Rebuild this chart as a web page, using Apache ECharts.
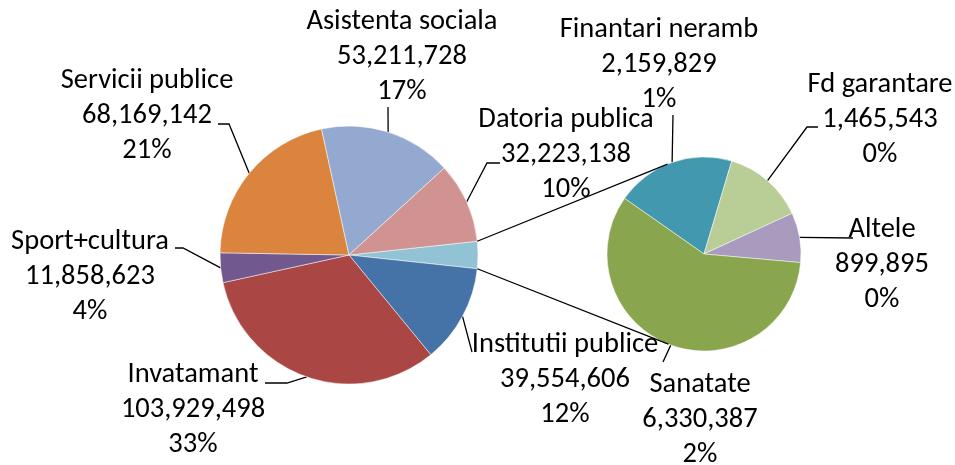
<!DOCTYPE html>
<html>
<head>
<meta charset="utf-8">
<script src="https://cdn.jsdelivr.net/npm/echarts@6/dist/echarts.min.js"></script>
<style>
html, body { margin: 0; background: #fff; }
#chart { width: 955px; height: 465px; }
</style>
</head>
<body>
<div id="chart"></div>
<script>
// main pie, clockwise from the split-off slice
const mainNames = ['Institutii publice', 'Invatamant', 'Sport+cultura', 'Servicii publice', 'Asistenta sociala', 'Datoria publica']
const mainValues = [39554606, 103929498, 11858623, 68169142, 53211728, 32223138]
// second pie (the "other" slice exploded)
const subNames = ['Finantari neramb', 'Fd garantare', 'Altele', 'Sanatate']
const subValues = [2159829, 1465543, 899895, 6330387]

const mainColors = ['#4572A7', '#AA4643', '#71588F', '#DB843D', '#93A9CF', '#D09392']
const otherColor = '#92C3D4'
const subColors = ['#4198AF', '#B9CD96', '#A99BBD', '#89A54E']

const otherValue = subValues.reduce((a, b) => a + b, 0)
const grandTotal = otherValue + mainValues.reduce((a, b) => a + b, 0)

const C1 = [349, 255], R1 = 129
const C2 = [704, 254], R2 = 97
const start1 = (otherValue / grandTotal) * 360 / 2
const start2 = 145

// label placement (label centre + leader line points after the anchor)
const labelPos = {
    'Servicii publice': { x: 147, y: 116, line: [[229, 124], [218, 124]] },
    'Asistenta sociala': { x: 402, y: 57, line: [[388, 107]] },
    'Datoria publica': { x: 566, y: 155, line: [[487, 163], [500, 163]] },
    'Institutii publice': { x: 565, y: 380, line: [[472, 352]] },
    'Invatamant': { x: 193, y: 410, line: [[287, 383], [265, 383]] },
    'Sport+cultura': { x: 90, y: 277, line: [[183, 248], [175, 248]] },
    'Finantari neramb': { x: 659, y: 65, line: [[673, 115]] },
    'Fd garantare': { x: 880, y: 120, line: [[807, 127], [818, 127]] },
    'Altele': { x: 882, y: 265, line: [[853, 238]] },
    'Sanatate': { x: 700, y: 420, line: [[663, 362]] },
}

function pt(c, r, deg) {
    const a = deg * Math.PI / 180
    return [c[0] + r * Math.cos(a), c[1] - r * Math.sin(a)]
}

// mid angle of every slice, to anchor the leader lines
function midAngles(values, startAngle) {
    const sum = values.reduce((a, b) => a + b, 0)
    let cum = 0
    return values.map(v => {
        const m = startAngle - (cum + v / 2) / sum * 360
        cum += v
        return m
    })
}

const mainData = [{ name: 'Altele grup', value: otherValue, itemStyle: { color: otherColor }, label: { show: false }, labelLine: { show: false } }]
    .concat(mainNames.map((n, i) => ({ name: n, value: mainValues[i], itemStyle: { color: mainColors[i] } })))
const mainMid = midAngles(mainData.map(d => d.value), start1)

const subData = subNames.map((n, i) => ({ name: n, value: subValues[i], itemStyle: { color: subColors[i] } }))
const subMid = midAngles(subValues, start2)

// main pie uses the library's rounded percent, second pie is a share of the grand total
const fmtMain = p => p.name + '\n' + p.value.toLocaleString('en-US') + '\n' + p.percent + '%'
const fmtSub = p => p.name + '\n' + p.value.toLocaleString('en-US') + '\n' + Math.round(p.value / grandTotal * 100) + '%'

function layoutFor(data, mids, c, r) {
    return function (params) {
        const name = data[params.dataIndex].name
        const lp = labelPos[name]
        if (!lp) return {}
        const anchor = pt(c, r, mids[params.dataIndex])
        const pts = [anchor].concat(lp.line)
        if (pts.length < 3) pts.push(pts[pts.length - 1])
        return { x: lp.x, y: lp.y, align: 'center', verticalAlign: 'middle', labelLinePoints: pts }
    }
}

const labelStyle = {
    show: true,
    color: '#000',
    fontSize: 28.5,
    lineHeight: 35,
    fontFamily: 'Carlito, Calibri, Lato, sans-serif',
}
const lineStyle = { show: true, lineStyle: { color: '#000', width: 1.3 } }

// connector lines: edge of the split slice -> tangent point on the second pie
function tangent(p, top) {
    const dx = p[0] - C2[0], dy = C2[1] - p[1]
    const d = Math.sqrt(dx * dx + dy * dy)
    const base = Math.atan2(dy, dx) * 180 / Math.PI
    const off = 90 - Math.asin(R2 / d) * 180 / Math.PI
    return pt(C2, R2, top ? base - off : base + off)
}
const pTop = pt(C1, R1, start1)
const pBot = pt(C1, R1, -start1)
const tTop = tangent(pTop, true)
const tBot = tangent(pBot, false)

const chart = echarts.init(document.getElementById('chart'))
chart.setOption({
    backgroundColor: '#fff',
    animation: false,
    series: [
        {
            type: 'pie',
            center: C1,
            radius: R1,
            startAngle: start1,
            clockwise: true,
            percentPrecision: 0,
            avoidLabelOverlap: false,
            data: mainData,
            itemStyle: { borderColor: '#fff', borderWidth: 0.5 },
            label: Object.assign({ formatter: fmtMain }, labelStyle),
            labelLine: lineStyle,
            labelLayout: layoutFor(mainData, mainMid, C1, R1),
            emphasis: { disabled: true },
        },
        {
            type: 'pie',
            center: C2,
            radius: R2,
            startAngle: start2,
            clockwise: true,
            avoidLabelOverlap: false,
            data: subData,
            itemStyle: { borderColor: '#fff', borderWidth: 0.5 },
            label: Object.assign({ formatter: fmtSub }, labelStyle),
            labelLine: lineStyle,
            labelLayout: layoutFor(subData, subMid, C2, R2),
            emphasis: { disabled: true },
        },
    ],
    graphic: [
        { type: 'line', shape: { x1: pTop[0], y1: pTop[1], x2: tTop[0], y2: tTop[1] }, style: { stroke: '#000', lineWidth: 1.3 }, z: 10 },
        { type: 'line', shape: { x1: pBot[0], y1: pBot[1], x2: tBot[0], y2: tBot[1] }, style: { stroke: '#000', lineWidth: 1.3 }, z: 10 },
    ],
})
</script>
</body>
</html>
